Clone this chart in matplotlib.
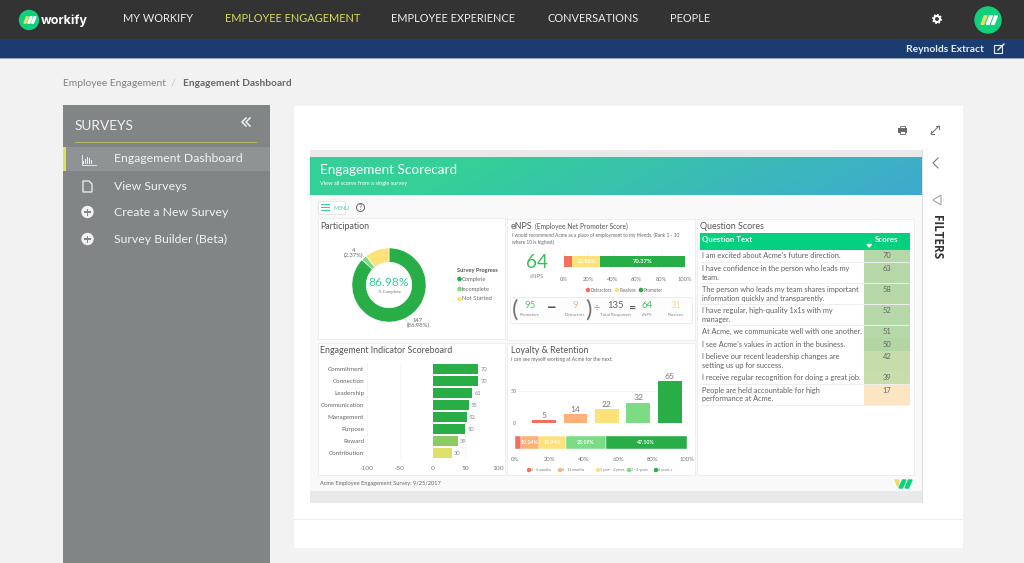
import numpy as np
import matplotlib
matplotlib.use("Agg")
import matplotlib.pyplot as plt
from matplotlib.patches import Rectangle, Circle, Polygon, FancyBboxPatch

W, H = 1024, 563

# Chart data
donut_labels = ["Complete", "Incomplete", "Not Started"]
donut_values = [147, 4, 18]
donut_colors = ["#28ad47", "#7bdc85", "#fde27c"]

enps_labels = ["Detractors", "Passives", "Promoter"]
enps_values = [6.67, 22.96, 70.37]
enps_text = ["", "22.96%", "70.37%"]
enps_colors = ["#f2705c", "#fde27c", "#28ad47"]
pct_ticks = [0, 20, 40, 60, 80, 100]

indicators = ["Commitment", "Connection", "Leadership", "Communication",
              "Management", "Purpose", "Reward", "Contribution"]
indicator_scores = [70, 70, 61, 55, 52, 50, 39, 30]
indicator_colors = ["#28ad47", "#28ad47", "#28ad47", "#28ad47",
                    "#28ad47", "#28ad47", "#8cca62", "#dfe06a"]

loyalty_labels = ["0 - 6 months", "6 - 12 months", "1 year - 2 years", "2 - 4 years", "4 years +"]
loyalty_counts = [5, 14, 22, 32, 65]
loyalty_pcts = [3.62, 10.14, 15.94, 23.19, 47.10]
loyalty_text = ["", "10.14%", "15.94%", "23.19%", "47.10%"]
loyalty_colors = ["#f2705c", "#fdb077", "#fde27c", "#7bdc85", "#28ad47"]

questions = ["I am excited about Acme's future direction.",
             "I have confidence in the person who leads my\nteam.",
             "The person who leads my team shares important\ninformation quickly and transparently.",
             "I have regular, high-quality 1x1s with my\nmanager.",
             "At Acme, we communicate well with one another.",
             "I see Acme's values in action in the business.",
             "I believe our recent leadership changes are\nsetting us up for success.",
             "I receive regular recognition for doing a great job.",
             "People are held accountable for high\nperformance at Acme."]
question_scores = [70, 63, 58, 52, 51, 50, 42, 39, 17]
score_colors = ["#b6d7a8", "#b6d7a8", "#b6d7a8", "#b6d7a8", "#b6d7a8",
                "#b3d4a3", "#c6dcab", "#c8ddac", "#fce6c2"]

nav_items = ["MY WORKIFY", "EMPLOYEE ENGAGEMENT", "EMPLOYEE EXPERIENCE", "CONVERSATIONS", "PEOPLE"]
nav_x = [123, 225, 391, 547, 670]
side_items = ["Engagement Dashboard", "View Surveys", "Create a New Survey", "Survey Builder (Beta)"]
side_y = [159, 186, 212, 239]

UI = "Lato"
DASH = "Lato"
GREY = "#666666"
S = 1.09  # Lato runs narrower, sizes for the dashboard text are scaled up

fig = plt.figure(figsize=(W / 100, H / 100), dpi=100, facecolor="#f2f2f2")
page = fig.add_axes([0, 0, 1, 1])
page.set_xlim(0, W)
page.set_ylim(H, 0)
page.axis("off")


def rect(x0, y0, x1, y1, color, edge="none", z=1, lw=0.6):
    page.add_patch(Rectangle((x0, y0), x1 - x0, y1 - y0, facecolor=color, edgecolor=edge, lw=lw, zorder=z))


def label(x, y, s, size, color=GREY, family=None, ha="left", va="center", **kw):
    if family is None:
        family, size = DASH, size * S
    page.text(x, y, s, fontsize=size, color=color, family=family, ha=ha, va=va, zorder=6, **kw)


def logo(cx, cy, r):
    page.add_patch(Circle((cx, cy), r, color="#0fd17a", zorder=3))
    s = r / 15
    for dx, c in [(-7, "#dfe06a"), (-1, "white"), (5, "white")]:
        pts = [(cx + (dx - 1) * s, cy + 5 * s), (cx + (dx + 2) * s, cy + 5 * s),
               (cx + (dx + 6) * s, cy - 5 * s), (cx + (dx + 3) * s, cy - 5 * s)]
        page.add_patch(Polygon(pts, color=c, zorder=4))


def px_axes(x0, y0, x1, y1):
    ax = fig.add_axes([x0 / W, 1 - y1 / H, (x1 - x0) / W, (y1 - y0) / H], zorder=5)
    ax.patch.set_alpha(0)
    for s in ax.spines.values():
        s.set_visible(False)
    ax.tick_params(length=0, labelsize=3.8 * S, labelcolor="#777777", pad=2)
    return ax


# header
rect(0, 0, W, 39, "#333333")
rect(0, 39, W, 58, "#1b3c70")
rect(0, 57.5, W, 58.5, "#9aa3b0", z=2)
logo(29, 20, 9.5)
label(41, 21, "workify", 9.1, "white", family="Inter", fontweight="bold")
for x, s in zip(nav_x, nav_items):
    label(x, 19, s, 7.9, "#d8da5c" if s == "EMPLOYEE ENGAGEMENT" else "#eeeeee", family=UI)
page.add_patch(Circle((937, 19), 3, facecolor="none", edgecolor="white", lw=1.5, zorder=4))
page.add_patch(Circle((937, 19), 4.2, facecolor="none", edgecolor="white", lw=1.2, ls=(0, (1, 1)), zorder=4))
logo(988, 20, 13)
label(906, 49, "Reynolds Extract", 7.4, "#e8eef5", family=UI, fontweight="bold")
rect(994, 45, 1002, 53, "none", edge="#e8eef5", z=3, lw=0.8)
page.plot([998, 1004], [50, 44], color="#e8eef5", lw=1, zorder=4)

# breadcrumb
label(63, 83, "Employee Engagement", 7.4, "#808080", family=UI)
label(171, 83, "/", 7.4, "#c4c4c4", family=UI)
label(183, 83, "Engagement Dashboard", 7.3, "#666666", family=UI, fontweight="bold")

# sidebar
rect(63, 105, 270, 563, "#818586")
rect(63, 147, 270, 171, "#8f9394", z=2)
rect(63, 147, 66, 171, "#dfe24f", z=3)
label(75, 126, "SURVEYS", 9.8, "#f2f2f2", family=UI)
rect(75, 141.5, 257, 142.5, "#b3bb60", z=3)
for dx in [0, 4]:
    page.plot([246 + dx, 242 + dx, 246 + dx], [118, 122, 126], color="#f2f2f2", lw=1.1, zorder=4)
for y, s in zip(side_y, side_items):
    label(114, y, s, 8.8, "#f2f2f2", family=UI)
# sidebar icons
for h, x in zip([3, 5, 7, 6, 4], [83, 85, 87, 89, 91]):
    rect(x, 164 - h, x + 1.4, 164, "#f2f2f2", z=4)
page.plot([82, 82, 96], [155, 165, 165], color="#f2f2f2", lw=0.6, zorder=4)
page.add_patch(Polygon([(83, 181), (89, 181), (92, 184), (92, 192), (83, 192)], facecolor="none", edgecolor="#f2f2f2", lw=0.9, zorder=4))
for y in side_y[2:]:
    page.add_patch(Circle((87.5, y), 5.5, color="#f2f2f2", zorder=4))
    rect(84, y - 0.8, 91, y + 0.8, "#818586", z=5)
    rect(86.7, y - 3.5, 88.3, y + 3.5, "#818586", z=5)

# main panel
rect(294, 106, 963, 548, "white")
rect(294, 519, 963, 520, "#ececec", z=2)
rect(898, 128, 907, 132.5, "#666666", z=3)
rect(900, 126, 905, 128, "white", edge="#666666", z=3)
rect(900, 131, 905, 134, "white", edge="#666666", z=4)
page.plot([931, 939], [134, 126], color="#777777", lw=0.8, zorder=3)
page.plot([931, 931, 934], [131, 134, 134], color="#777777", lw=0.8, zorder=3)
page.plot([936, 939, 939], [126, 126, 129], color="#777777", lw=0.8, zorder=3)
page.plot([938, 933, 938], [158, 163, 168], color="#777777", lw=0.8, zorder=3)
page.add_patch(Polygon([(941, 195), (941, 205), (933, 200)], facecolor="none", edgecolor="#999999", lw=0.7, zorder=3))
label(936, 237, "FILTERS", 8.5, "#333333", family="Open Sans", ha="center", rotation=-90, fontweight="bold")

# dashboard image
rect(310, 150, 922, 503, "#e9e9e9", z=2)
rect(310, 157, 922, 491, "#f9f9f9", z=2)
rect(922, 150, 923, 503, "#dcdcdc", z=2)
yy, xx = np.mgrid[0:1:20j, 0:1:200j]
mix = np.clip(xx * 1.15 - 0.25 + (yy - 0.5) * 0.12, 0, 1)[..., None]
grad = (1 - mix) * np.array([0x35, 0xd0, 0x98]) / 255 + mix * np.array([0x3f, 0xa8, 0xd2]) / 255
page.imshow(grad, extent=(310, 922, 195, 157), aspect="auto", zorder=3)
page.set_xlim(0, W)
page.set_ylim(H, 0)
label(320, 170.5, "Engagement Scorecard", 8.9, "white")
label(320, 183, "View all scores from a single survey", 3.7, "white")
page.add_patch(FancyBboxPatch((319, 202), 26, 12, boxstyle="round,pad=0.5,rounding_size=2", facecolor="white", edgecolor="#e2e2e2", lw=0.6, zorder=3))
for y in [204.5, 207.5, 210.5]:
    rect(321, y - 0.7, 330, y + 0.7, "#35d09a", z=4)
label(333, 208, "MENU", 3.5, "#35d09a")
page.add_patch(Circle((360.5, 207.5), 4, facecolor="none", edgecolor="#666666", lw=0.7, zorder=4))
label(360.5, 207.5, "?", 4.5, "#666666", ha="center")

# cards
for box in [(318, 218, 505, 339), (507, 219, 695, 340), (697, 219, 914, 475),
            (318, 343, 505, 475), (507, 343, 695, 475)]:
    rect(box[0], box[1], box[2], box[3], "white", edge="#ececec", z=3)
label(320, 483, "Acme Employee Engagement Survey: 9/25/2017", 3.7, "#666666")
page.add_patch(Polygon([(895, 480), (898.5, 480), (899, 485), (897.5, 486)], color="#f0d96a", zorder=4))
for x in [899, 905]:
    page.add_patch(Polygon([(x, 488), (x + 3.5, 488), (x + 7, 480), (x + 3.5, 480)], color="#0fd17a", zorder=4))

# participation donut
label(320, 226.5, "Participation", 5.9, "#555555")
ax = px_axes(349, 245, 429, 325)
ax.pie(donut_values, colors=donut_colors, startangle=90, counterclock=False, radius=1,
       wedgeprops=dict(width=0.385, edgecolor="white", linewidth=0.4))
ax.set_xlim(-1.08, 1.08)
ax.set_ylim(-1.08, 1.08)
label(389, 282, "86.98%", 7.9, "#35d09a", ha="center")
label(389, 292, "% Complete", 2.9, "#777777", ha="center")
label(354, 253, "4\n(2.37%)", 3.9, "#666666", ha="center", linespacing=1.05)
label(418, 323, "147\n(86.98%)", 3.9, "#666666", ha="center", linespacing=1.05)
page.plot([357, 362, 365], [255, 255, 258], color="#cccccc", lw=0.4, zorder=6)
page.plot([405, 408, 411], [319, 323, 323], color="#cccccc", lw=0.4, zorder=6)
label(457, 270.5, "Survey Progress", 3.7, "#555555", fontweight="bold")
for y, s, c in zip([279, 289, 299], donut_labels, donut_colors):
    page.add_patch(Circle((459.5, y), 1.6, color=c, zorder=6))
    label(462, y, s, 3.8, "#666666")

# eNPS
label(511, 226.5, "eNPS", 5.9, "#555555")
label(535, 226.5, "(Employee Net Promoter Score)", 4.4, "#555555")
label(512, 238.5, "I would recommend Acme as a place of employment to my friends. (Rank 1 - 10\nwhere 10 is highest)", 3.15, "#666666", linespacing=1.25)
label(537, 263, "64", 12.5, "#3cbb5a", ha="center")
label(537, 276.5, "eNPS", 3.9, "#888888", ha="center")
ax = px_axes(564.3, 250, 685, 273)
left = 0
for v, c, t in zip(enps_values, enps_colors, enps_text):
    ax.barh([0], [v], left=left, height=0.48, color=c)
    if t:
        ax.text(left + v / 2, 0, t, color="white", fontsize=3.9 * S, family=DASH, ha="center", va="center", fontweight="bold")
    left += v
ax.set_xlim(0, 100)
ax.set_ylim(-0.5, 0.5)
ax.set_yticks([])
ax.set_xticks(pct_ticks)
ax.set_xticklabels([f"{p}%" for p in pct_ticks], family=DASH)
ax.tick_params(pad=3)
ax.grid(axis="x", color="#efefef", lw=0.4)
ax.set_axisbelow(True)
for x, s, c in zip([588, 617, 641], enps_labels, enps_colors):
    page.add_patch(Circle((x, 290), 1.6, color=c, zorder=6))
    label(x + 2.5, 290, s, 3.0, "#666666")
rect(510, 297, 692, 323, "#fdfdfd", edge="#ececec", z=4)
for x, v, t, c in [(530, "95", "Promoters", "#55c96c"), (575, "9", "Detractors", "#f6b48c"),
                   (616, "135", "Total Responses", "#666666"), (647, "64", "eNPS", "#3cbb5a"),
                   (676, "31", "Passives", "#f9dca0")]:
    label(x, 306, v, 6.4, c, ha="center")
    label(x, 315, t, 2.9, "#888888", ha="center")
label(515, 310, "(", 16, "#777777", ha="center")
label(588, 310, ")", 16, "#777777", ha="center")
label(552, 308, "\u2212", 11, "#555555", ha="center", fontweight="bold")
label(597, 308, "\u00f7", 7, "#888888", ha="center")
label(632, 308, "=", 8, "#555555", ha="center", fontweight="bold")

# engagement indicator bars
label(320, 350.5, "Engagement Indicator Scoreboard", 5.9, "#555555")
ax = px_axes(367, 363.3, 498, 459)
y_pos = np.arange(len(indicators))
ax.barh(y_pos, indicator_scores, height=0.8, color=indicator_colors)
for y, v in zip(y_pos, indicator_scores):
    ax.text(v + 3, y + 0.05, str(v), fontsize=3.8 * S, color="#888888", family=DASH, va="center")
ax.set_xlim(-100, 100)
ax.set_ylim(len(indicators) - 0.5, -0.5)
ax.set_yticks(y_pos)
ax.set_yticklabels(indicators, family=DASH, fontsize=4.1 * S, color="#666666")
ax.set_xticks([-100, -50, 0, 50, 100])
ax.set_xticklabels(["-100", "-50", "0", "50", "100"], family=DASH, fontsize=4.3 * S)
ax.tick_params(axis="x", pad=5)
ax.grid(axis="x", color="#f0f0f0", lw=0.4)
ax.set_axisbelow(True)

# loyalty columns
label(511, 350.5, "Loyalty & Retention", 5.9, "#555555")
label(511, 360, "I can see myself working at Acme for the next:", 3.3, "#666666")
ax = px_axes(517, 375, 687, 423.3)
x_pos = np.arange(len(loyalty_counts))
ax.bar(x_pos, loyalty_counts, width=0.76, color=loyalty_colors)
for x, v in zip(x_pos, loyalty_counts):
    ax.text(x, v + 2, str(v), fontsize=5.6 * S, color="#777777", family=DASH, ha="center", va="bottom")
ax.set_xlim(-0.86, 4.55)
ax.set_ylim(0, 75)
ax.set_xticks([])
ax.set_yticks([0, 50])
ax.set_yticklabels(["0", "50"], family=DASH, fontsize=3.5 * S)
ax.tick_params(axis="y", pad=0.5)
ax.grid(axis="y", color="#efefef", lw=0.4)
ax.set_axisbelow(True)

# loyalty stacked bar
ax = px_axes(515, 432, 686.7, 453)
left = 0
for v, c, t in zip(loyalty_pcts, loyalty_colors, loyalty_text):
    ax.barh([0], [v], left=left, height=0.64, color=c, edgecolor="white", lw=0.3)
    if t:
        ax.text(left + v / 2, 0, t, color="white", fontsize=3.5 * S, family=DASH, ha="center", va="center", fontweight="bold")
    left += v
ax.set_xlim(0, 100)
ax.set_ylim(-0.5, 0.5)
ax.set_yticks([])
ax.set_xticks(pct_ticks)
ax.set_xticklabels([f"{p}%" for p in pct_ticks], family=DASH, fontsize=3.9 * S)
ax.tick_params(axis="x", pad=3)
for x, s, c in zip([529, 560, 598, 629, 656], loyalty_labels, loyalty_colors):
    page.add_patch(Circle((x, 470), 1.5, color=c, zorder=6))
    label(x + 2, 470, s, 2.4, "#777777")

# question table
label(700, 226.5, "Question Scores", 5.9, "#555555")
rect(700, 233, 910, 250, "#03d17f", z=4)
rect(863.7, 233, 864.3, 250, "#c8f2dd", z=5)
label(702, 239.5, "Question Text", 5.2, "white", fontweight="bold")
label(887, 239.5, "Scores", 5.3, "white", ha="center", fontweight="bold")
page.add_patch(Polygon([(867, 244.5), (871.5, 244.5), (869.2, 247)], color="white", zorder=6))
row_y = 250
for q, v, c in zip(questions, question_scores, score_colors):
    n = q.count("\n") + 1
    h = 12.6 if n == 1 else 21
    rect(864, row_y, 910, row_y + h, c, z=4)
    rect(700, row_y + h - 0.25, 910, row_y + h + 0.25, "#eeeeee", z=5)
    label(702, row_y + (6 if n == 1 else 10.2), q, 4.9, "#5f5f5f", linespacing=1.25)
    label(887, row_y + 6, str(v), 5, "#666666", ha="center")
    row_y += h

fig.savefig("out.png", dpi=100, facecolor=fig.get_facecolor())
